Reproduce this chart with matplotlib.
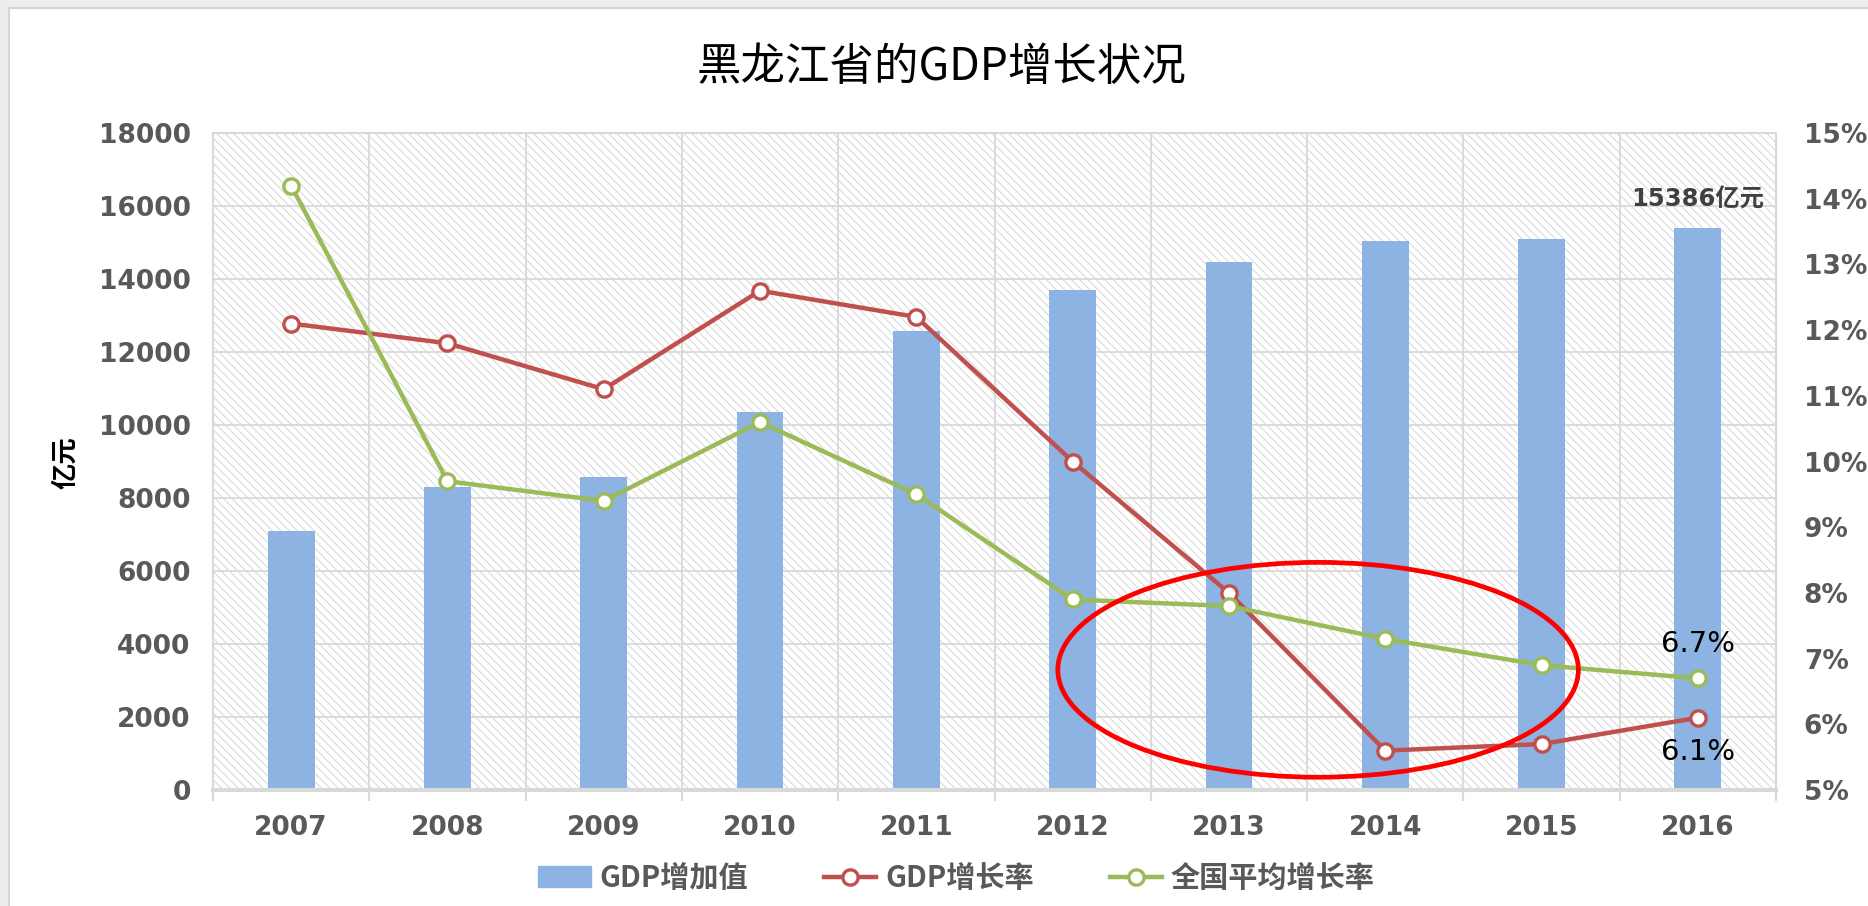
import numpy as np
import matplotlib.pyplot as plt
from matplotlib.patches import Rectangle, Ellipse, Patch
from matplotlib.lines import Line2D

# ---------------------------------------------------------------------------
# data
years = ['2007', '2008', '2009', '2010', '2011', '2012', '2013', '2014', '2015', '2016']
gdp = [7104, 8314, 8587, 10369, 12582, 13692, 14455, 15039, 15084, 15386]      # 亿元
hlj_rate = [12.1, 11.8, 11.1, 12.6, 12.2, 10.0, 8.0, 5.6, 5.7, 6.1]            # GDP增长率 %
nat_rate = [14.2, 9.7, 9.4, 10.6, 9.5, 7.9, 7.8, 7.3, 6.9, 6.7]                # 全国平均增长率 %
gdp_ticks = list(range(0, 18001, 2000))
pct_ticks = list(range(5, 16))

bar_color = '#8DB3E2'
red = '#C0504D'
green = '#9BBB59'
grid_color = '#d9d9d9'
label_color = '#595959'

plt.rcParams['font.family'] = ['Noto Sans CJK SC', 'DejaVu Sans']
plt.rcParams['hatch.linewidth'] = 0.7

# ---------------------------------------------------------------------------
fig = plt.figure(figsize=(18.68, 9.06), dpi=100, facecolor='#ededed')
fig.add_artist(Rectangle((9 / 1868, -0.01), 1.0, 1 - 8 / 906 + 0.01, transform=fig.transFigure,
                         facecolor='white', edgecolor='#d4d4d4', lw=1.5, zorder=-1))

ax = fig.add_axes([0.114, 0.128, 0.8368, 0.7252])
x = np.arange(len(years))

# hatched plot background
ax.add_patch(Rectangle((0, 0), 1, 1, transform=ax.transAxes, facecolor='white',
                       edgecolor='#d6d6d6', hatch='\\\\\\\\', lw=0, zorder=0))

ax.bar(x, gdp, width=0.3, color=bar_color, zorder=2)
ax.set_xlim(-0.5, len(years) - 0.5)
ax.set_ylim(0, 18000)
ax.set_yticks(gdp_ticks)
ax.set_xticks(x)
ax.set_xticklabels(years)
ax.set_xticks(np.arange(-0.5, len(years), 1), minor=True)
ax.set_axisbelow(True)
ax.grid(axis='y', color=grid_color, lw=1.3)
ax.grid(axis='x', which='minor', color=grid_color, lw=1.3)
ax.tick_params(axis='x', which='major', length=0, pad=18, labelsize=19, labelcolor=label_color)
ax.tick_params(axis='x', which='minor', length=8, width=1.5, color=grid_color)
ax.tick_params(axis='y', length=0, pad=16, labelsize=19, labelcolor=label_color)
plt.setp(ax.get_xticklabels() + ax.get_yticklabels(), fontweight='bold', family='DejaVu Sans')
for side in ['top', 'left', 'right']:
    ax.spines[side].set_color(grid_color)
    ax.spines[side].set_linewidth(1.5)
ax.spines['bottom'].set_color(grid_color)
ax.spines['bottom'].set_linewidth(3)

ax.annotate(f'{gdp[-1]}亿元', (x[-1], gdp[-1]), xytext=(0, 21), textcoords='offset points',
            ha='center', va='center', fontsize=17.5, fontweight='bold', color='#404040',
            family=['DejaVu Sans', 'Noto Sans CJK SC'])

# growth rates on the right axis
line_kw = dict(lw=3.2, marker='o', ms=11, mfc='white', mew=2.4)
ax2 = ax.twinx()
ax2.plot(x, hlj_rate, color=red, mec=red, zorder=3, **line_kw)
ax2.plot(x, nat_rate, color=green, mec=green, zorder=3, **line_kw)
ax2.set_ylim(5, 15)
ax2.set_yticks(pct_ticks)
ax2.set_yticklabels([f'{v}%' for v in pct_ticks])
ax2.tick_params(axis='y', length=0, pad=20, labelsize=19, labelcolor=label_color)
plt.setp(ax2.get_yticklabels(), fontweight='bold', family='DejaVu Sans')
for side in ax2.spines:
    ax2.spines[side].set_visible(False)

ax2.annotate(f'{nat_rate[-1]}%', (x[-1], nat_rate[-1]), xytext=(0, 25), textcoords='offset points',
             ha='center', va='center', fontsize=21, color='black', family='DejaVu Sans')
ax2.annotate(f'{hlj_rate[-1]}%', (x[-1], hlj_rate[-1]), xytext=(0, -25), textcoords='offset points',
             ha='center', va='center', fontsize=21, color='black', family='DejaVu Sans')

# red circle highlighting 2012-2016
ax2.add_patch(Ellipse((6.57, 6.83), 3.33, 3.27, fill=False, edgecolor='red', lw=3.4, zorder=5))

# titles
fig.text(942 / 1868, 1 - 67 / 906, '黑龙江省的GDP增长状况', ha='center', va='center', fontsize=32)
fig.text(66 / 1868, 1 - 463 / 906, '亿元', rotation=90, ha='center', va='center',
         fontsize=19, fontweight='bold')

handles = [Patch(color=bar_color),
           Line2D([], [], color=red, mec=red, **line_kw),
           Line2D([], [], color=green, mec=green, **line_kw)]
fig.legend(handles, ['GDP增加值', 'GDP增长率', '全国平均增长率'], loc='center',
           bbox_to_anchor=(0.512, 0.031), ncol=3, frameon=False, labelcolor=label_color,
           prop=dict(family='Noto Sans CJK SC', weight='bold', size=21),
           handlelength=1.8, columnspacing=2.6, handletextpad=0.3)

fig.savefig('out.png', dpi=100, facecolor=fig.get_facecolor())
